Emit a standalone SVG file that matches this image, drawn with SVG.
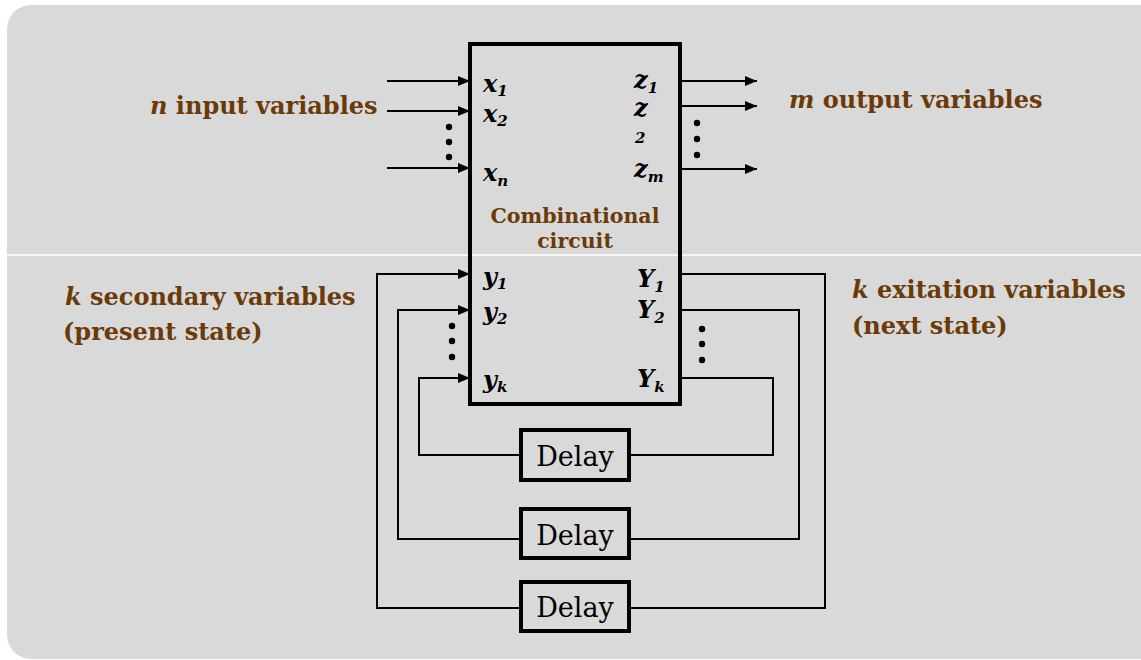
<svg xmlns="http://www.w3.org/2000/svg" width="1141" height="660" viewBox="0 0 1141 660">
  <defs>
    <marker id="arrow" markerWidth="12" markerHeight="10" refX="12" refY="5" orient="auto" markerUnits="userSpaceOnUse">
      <path d="M0,0 L12,5 L0,10 Z" fill="#000"/>
    </marker>
    <style>
      .wire { fill: none; stroke: #000; stroke-width: 2; }
      .box { fill: none; stroke: #000; stroke-width: 4; }
      .var { font-family: "DejaVu Serif", "Liberation Serif", serif; font-weight: bold; font-style: italic; font-size: 24px; fill: #000; }
      .sub { font-size: 15px; }
      .lbl { font-family: "DejaVu Serif", "Liberation Serif", serif; font-weight: bold; font-size: 24px; fill: #6b3a0a; }
      .lbl .it { font-style: italic; }
      .title { font-size: 20.5px; text-anchor: middle; }
      .delay { font-family: "DejaVu Serif", "Liberation Serif", serif; font-size: 27px; fill: #000; text-anchor: middle; }
      .dot { fill: #000; }
    </style>
  </defs>

  <!-- panel background -->
  <rect x="7" y="5" width="1160" height="654" rx="24" ry="24" fill="#d9d9d9"/>
  <line x1="0" y1="255" x2="1141" y2="255" stroke="#fff" stroke-width="1.5"/>

  <!-- connectors -->
  <g id="connectors">
    <line class="wire" x1="387" y1="81" x2="470" y2="81" marker-end="url(#arrow)"/>
    <line class="wire" x1="387" y1="111" x2="470" y2="111" marker-end="url(#arrow)"/>
    <line class="wire" x1="387" y1="168" x2="470" y2="168" marker-end="url(#arrow)"/>
    <line class="wire" x1="680" y1="81" x2="757" y2="81" marker-end="url(#arrow)"/>
    <line class="wire" x1="680" y1="106" x2="757" y2="106" marker-end="url(#arrow)"/>
    <line class="wire" x1="680" y1="169" x2="757" y2="169" marker-end="url(#arrow)"/>
    <!-- feedback loops through delays -->
    <polyline class="wire" points="680,274 825,274 825,608 629,608"/>
    <polyline class="wire" points="521,608 377,608 377,274 470,274" marker-end="url(#arrow)"/>
    <polyline class="wire" points="680,310 799,310 799,539 629,539"/>
    <polyline class="wire" points="521,539 398,539 398,310 470,310" marker-end="url(#arrow)"/>
    <polyline class="wire" points="680,378 773,378 773,455 629,455"/>
    <polyline class="wire" points="521,455 419,455 419,378 470,378" marker-end="url(#arrow)"/>
  </g>

  <!-- ellipsis dots -->
  <g id="dots">
    <circle class="dot" cx="449" cy="127" r="3.2"/>
    <circle class="dot" cx="449" cy="142" r="3.2"/>
    <circle class="dot" cx="449" cy="157" r="3.2"/>
    <circle class="dot" cx="697" cy="123" r="3.2"/>
    <circle class="dot" cx="697" cy="139" r="3.2"/>
    <circle class="dot" cx="697" cy="155" r="3.2"/>
    <circle class="dot" cx="452" cy="326" r="3.2"/>
    <circle class="dot" cx="452" cy="341" r="3.2"/>
    <circle class="dot" cx="452" cy="357" r="3.2"/>
    <circle class="dot" cx="702" cy="329" r="3.2"/>
    <circle class="dot" cx="702" cy="344" r="3.2"/>
    <circle class="dot" cx="702" cy="360" r="3.2"/>
  </g>

  <!-- combinational circuit block -->
  <g id="comb">
    <rect class="box" x="470" y="44" width="210" height="360"/>
    <text class="var" x="483" y="92">x<tspan class="sub" dy="4">1</tspan></text>
    <text class="var" x="483" y="122">x<tspan class="sub" dy="4">2</tspan></text>
    <text class="var" x="483" y="181">x<tspan class="sub" dy="5">n</tspan></text>
    <text class="var" x="634" y="88">z<tspan class="sub" dy="5">1</tspan></text>
    <text class="var" x="634" y="116">z</text>
    <text class="var sub" x="635" y="143">2</text>
    <text class="var" x="634" y="177">z<tspan class="sub" dy="5">m</tspan></text>
    <text class="var" x="483" y="285">y<tspan class="sub" dy="4">1</tspan></text>
    <text class="var" x="483" y="320">y<tspan class="sub" dy="4">2</tspan></text>
    <text class="var" x="483" y="388">y<tspan class="sub" dy="4">k</tspan></text>
    <text class="var" x="637" y="287">Y<tspan class="sub" dy="5">1</tspan></text>
    <text class="var" x="637" y="318">Y<tspan class="sub" dy="5">2</tspan></text>
    <text class="var" x="637" y="387">Y<tspan class="sub" dy="5">k</tspan></text>
    <text class="lbl title" x="575" y="223">Combinational</text>
    <text class="lbl title" x="575" y="248">circuit</text>
  </g>

  <!-- delay elements -->
  <g id="delay1">
    <rect class="box" x="521" y="430" width="108" height="50" fill="#d9d9d9"/>
    <text class="delay" x="575" y="466">Delay</text>
  </g>
  <g id="delay2">
    <rect class="box" x="521" y="509" width="108" height="49" fill="#d9d9d9"/>
    <text class="delay" x="575" y="545">Delay</text>
  </g>
  <g id="delay3">
    <rect class="box" x="521" y="582" width="108" height="49" fill="#d9d9d9"/>
    <text class="delay" x="575" y="617">Delay</text>
  </g>

  <!-- side labels -->
  <g id="labels">
    <text class="lbl" x="150" y="114"><tspan class="it">n</tspan> input variables</text>
    <text class="lbl" x="789" y="108"><tspan class="it">m</tspan> output variables</text>
    <text class="lbl" x="65" y="305"><tspan class="it">k</tspan> secondary variables</text>
    <text class="lbl" x="63" y="340">(present state)</text>
    <text class="lbl" x="852" y="298"><tspan class="it">k</tspan> exitation variables</text>
    <text class="lbl" x="852" y="334">(next state)</text>
  </g>
</svg>
